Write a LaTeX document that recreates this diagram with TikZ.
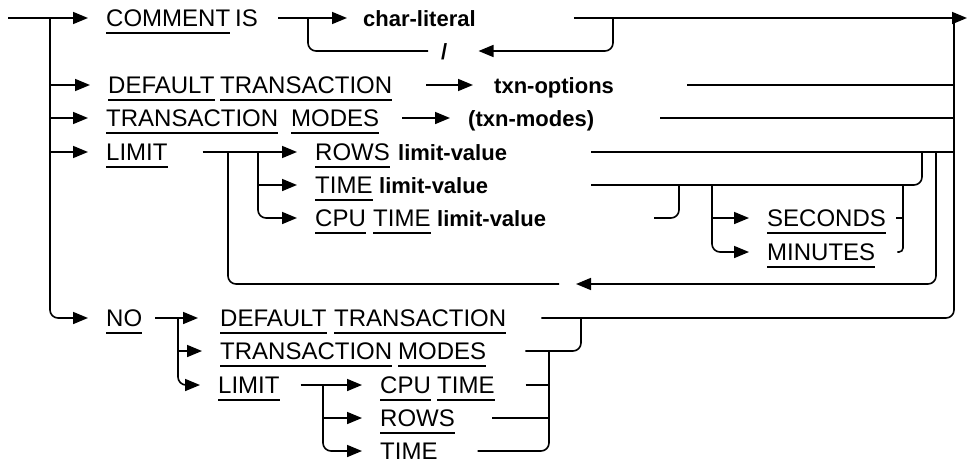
\documentclass[tikz,border=0pt]{standalone}
\usepackage{fontspec}
\setmainfont{Liberation Sans}
\usetikzlibrary{arrows.meta}
\newcommand\kwfont{\fontsize{24}{28}\selectfont}
\newcommand\nmfont{\fontsize{22}{26}\selectfont\bfseries}
\tikzset{
  rail/.style={line width=1.6pt, rounded corners=8pt},
  tip/.style={-{Triangle[length=15pt,width=12pt]}},
  kw/.style={inner sep=0pt, anchor=west, text height=17.2pt, text depth=0pt, font=\kwfont},
  nm/.style={inner sep=0pt, anchor=west, text height=17.2pt, text depth=0pt, font=\nmfont},
  ul/.style={line width=1.3pt}
}

\begin{document}
\begin{tikzpicture}[x=1pt,y=-1pt]
    \useasboundingbox (0,0) rectangle (968,464);

    % keywords and names
    \node[kw] (cmt) at (106,18) {COMMENT};
    \node[kw] (is) at (235,18) {IS};
    \node[nm] (chl) at (363,18) {char-literal};
    \node[nm] (slash) at (441,51) {/};
    \node[kw] (dft1) at (108,85) {DEFAULT};
    \node[kw] (trn1) at (220,85) {TRANSACTION};
    \node[nm] (txo) at (494,85) {txn-options};
    \node[kw] (trn2) at (106,118) {TRANSACTION};
    \node[kw] (mod2) at (291,118) {MODES};
    \node[nm] (txm) at (468,118) {(txn-modes)};
    \node[kw] (lim1) at (106,152) {LIMIT};
    \node[kw] (row1) at (315,152) {ROWS};
    \node[nm] (lv1) at (398,152) {limit-value};
    \node[kw] (tim1) at (315,185) {TIME};
    \node[nm] (lv2) at (379,185) {limit-value};
    \node[kw] (cpu1) at (315,218) {CPU};
    \node[kw] (tim2) at (373,218) {TIME};
    \node[nm] (lv3) at (437,218) {limit-value};
    \node[kw] (sec) at (767,218) {SECONDS};
    \node[kw] (min) at (767,252) {MINUTES};
    \node[kw] (no) at (106,318) {NO};
    \node[kw] (dft2) at (220,318) {DEFAULT};
    \node[kw] (trn3) at (334,318) {TRANSACTION};
    \node[kw] (trn4) at (220,351) {TRANSACTION};
    \node[kw] (mod4) at (398,351) {MODES};
    \node[kw] (lim2) at (218,385) {LIMIT};
    \node[kw] (cpu2) at (380,385) {CPU};
    \node[kw] (tim3) at (437,385) {TIME};
    \node[kw] (row2) at (380,418) {ROWS};
    \node[kw] (tim4) at (380,451) {TIME};

    \foreach \k in {cmt,dft1,trn1,trn2,mod2,lim1,row1,tim1,cpu1,tim2,sec,min,
                    no,dft2,trn3,trn4,mod4,lim2,cpu2,tim3,row2,tim4}
      \draw[ul] ([yshift=-6.5pt]\k.base west) -- ([yshift=-6.5pt]\k.base east);

    % junctions
    \coordinate (start) at (8,18);
    \coordinate (end) at (967,18);
    \coordinate (main) at (50,18);
    \coordinate (rv) at (954,18);
    \coordinate (lp1) at (308,18);
    \coordinate (lp2) at (613,18);
    \coordinate (b1) at (228,152);
    \coordinate (b2) at (258,152);
    \coordinate (j1) at (922,152);
    \coordinate (j2) at (679,185);
    \coordinate (b3) at (712,185);
    \coordinate (j3) at (903,185);
    \coordinate (back) at (936,152);
    \coordinate (b4) at (178,318);
    \coordinate (j4) at (581,318);
    \coordinate (b5) at (323,385);
    \coordinate (j5) at (549,351);

    % COMMENT IS
    \draw[rail,tip] (start) -- ([xshift=-18pt]cmt.west);
    \draw[rail,tip] ([xshift=20pt]is.east) -- ([xshift=-16pt]chl.west);
    \draw[rail,tip] ([xshift=98pt]chl.east) -- (end);
    \draw[rail,tip] (lp2) |- ([xshift=31pt]slash.east);
    \draw[rail] ([xshift=-13pt]slash.west) -| (lp1);

    % left trunk
    \draw[rail,tip] (main) |- ([xshift=-18pt]no.west);
    \draw[rail,tip] (main |- dft1.west) -- ([xshift=-18pt]dft1.west);
    \draw[rail,tip] (main |- trn2.west) -- ([xshift=-18pt]trn2.west);
    \draw[rail,tip] (main |- lim1.west) -- ([xshift=-18pt]lim1.west);

    % DEFAULT TRANSACTION, TRANSACTION MODES
    \draw[rail,tip] ([xshift=34pt]trn1.east) -- ([xshift=-21pt]txo.west);
    \draw[rail] ([xshift=73pt]txo.east) -- (rv |- txo.east);
    \draw[rail,tip] ([xshift=23pt]mod2.east) -- ([xshift=-18pt]txm.west);
    \draw[rail] ([xshift=66pt]txm.east) -- (rv |- txm.east);

    % LIMIT
    \draw[rail,tip] ([xshift=35pt]lim1.east) -- ([xshift=-18pt]row1.west);
    \draw[rail,tip] (b2 |- tim1.west) -- ([xshift=-18pt]tim1.west);
    \draw[rail,tip] (b2) |- ([xshift=-18pt]cpu1.west);
    \draw[rail] ([xshift=84pt]lv1.east) -- (rv |- lv1.east);
    \draw[rail] ([xshift=103pt]lv2.east) -| (j1);
    \draw[rail] ([xshift=108pt]lv3.east) -| (j2);
    \draw[rail,tip] (b3 |- sec.west) -- ([xshift=-18pt]sec.west);
    \draw[rail,tip] (b3) |- ([xshift=-18pt]min.west);
    \draw[rail] ([xshift=10pt]sec.east) -- (j3 |- sec.east);
    \draw[rail,rounded corners=4pt] ([xshift=22pt]min.east) -| (j3);
    \draw[rail,tip] (back) |- (576,284);
    \draw[rail] (559,284) -| (b1);

    % NO
    \draw[rail,tip] ([xshift=13pt]no.east) -- ([xshift=-22pt]dft2.west);
    \draw[rail,tip] (b4 |- trn4.west) -- ([xshift=-18pt]trn4.west);
    \draw[rail,tip] (b4) |- ([xshift=-18pt]lim2.west);
    \draw[rail] ([xshift=35pt]trn3.east) -| (rv);
    \draw[rail] ([xshift=39pt]mod4.east) -| (j4);
    \draw[rail,tip] ([xshift=21pt]lim2.east) -- ([xshift=-18pt]cpu2.west);
    \draw[rail,tip] (b5 |- row2.west) -- ([xshift=-18pt]row2.west);
    \draw[rail,tip] (b5) |- ([xshift=-18pt]tim4.west);
    \draw[rail] ([xshift=31pt]tim3.east) -- (j5 |- tim3.east);
    \draw[rail] ([xshift=37pt]row2.east) -- (j5 |- row2.east);
    \draw[rail] ([xshift=40pt]tim4.east) -| (j5);
\end{tikzpicture}
\end{document}
